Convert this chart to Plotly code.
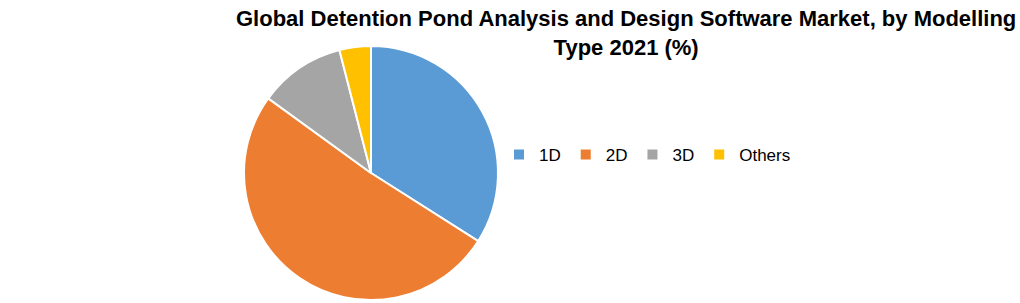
import plotly.graph_objects as go

categories = ["1D", "2D", "3D", "Others"]
values = [34, 51, 11, 4]
colors = ["#5B9BD5", "#ED7D31", "#A5A5A5", "#FFC000"]
title_lines = ["Global Detention Pond Analysis and Design Software Market, by Modelling", "Type 2021 (%)"]

W, H = 1020, 303
cx, cy, r = 371, 173, 127

fig = go.Figure(go.Pie(
    labels=categories,
    values=values,
    marker=dict(colors=colors, line=dict(color="white", width=2)),
    sort=False,
    direction="clockwise",
    rotation=0,
    textinfo="none",
    hoverinfo="label+percent",
    domain=dict(x=[(cx - r) / W, (cx + r) / W], y=[1 - (cy + r) / H, 1 - (cy - r) / H]),
))

fig.update_layout(
    width=W, height=H,
    margin=dict(l=0, r=0, t=0, b=0),
    paper_bgcolor="white",
    plot_bgcolor="white",
    font=dict(family="Liberation Sans, Arial, sans-serif", color="#000000"),
    showlegend=True,
    legend=dict(
        orientation="h",
        x=499 / W, xanchor="left",
        y=1 - 155 / H, yanchor="middle",
        font=dict(size=17, color="#000000"),
        bgcolor="rgba(0,0,0,0)",
        itemclick=False,
        tracegroupgap=0,
    ),
    annotations=[dict(
        text="<b>" + "<br>".join(title_lines) + "</b>",
        x=626 / W, xref="paper", xanchor="center",
        y=1 - 4 / H, yref="paper", yanchor="top",
        showarrow=False,
        align="center",
        font=dict(size=22, color="#000000", family="Liberation Sans, Arial, sans-serif"),
    )],
)

fig.write_html("out.html")
